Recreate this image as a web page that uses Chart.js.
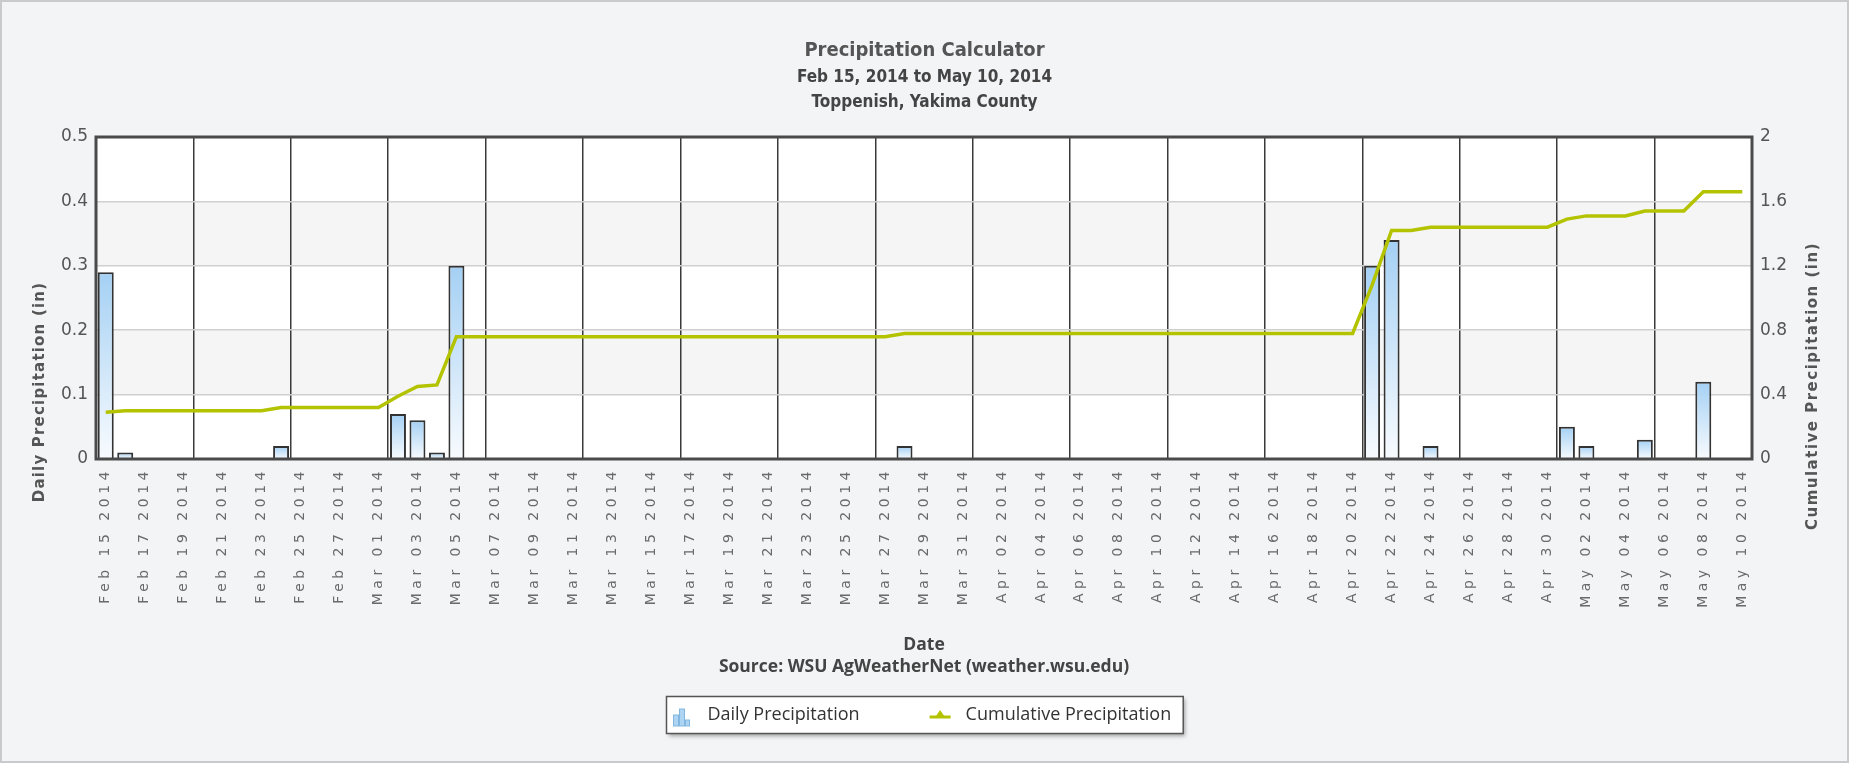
<!DOCTYPE html>
<html>
<head>
<meta charset="utf-8">
<script src="https://cdn.jsdelivr.net/npm/chart.js@4.4.0/dist/chart.umd.min.js"></script>
<style>
    html, body { margin: 0; padding: 0; background: #f3f4f6; }
    canvas { display: block; }
</style>
</head>
<body>
<canvas id="graficoPioggia" width="1849" height="763"></canvas>
<script>
// giorni dal 15 febbraio al 10 maggio 2014
const giorni = [
    'Feb 15 2014', 'Feb 16 2014', 'Feb 17 2014', 'Feb 18 2014', 'Feb 19 2014', 'Feb 20 2014', 'Feb 21 2014',
    'Feb 22 2014', 'Feb 23 2014', 'Feb 24 2014', 'Feb 25 2014', 'Feb 26 2014', 'Feb 27 2014', 'Feb 28 2014',
    'Mar 01 2014', 'Mar 02 2014', 'Mar 03 2014', 'Mar 04 2014', 'Mar 05 2014', 'Mar 06 2014', 'Mar 07 2014',
    'Mar 08 2014', 'Mar 09 2014', 'Mar 10 2014', 'Mar 11 2014', 'Mar 12 2014', 'Mar 13 2014', 'Mar 14 2014',
    'Mar 15 2014', 'Mar 16 2014', 'Mar 17 2014', 'Mar 18 2014', 'Mar 19 2014', 'Mar 20 2014', 'Mar 21 2014',
    'Mar 22 2014', 'Mar 23 2014', 'Mar 24 2014', 'Mar 25 2014', 'Mar 26 2014', 'Mar 27 2014', 'Mar 28 2014',
    'Mar 29 2014', 'Mar 30 2014', 'Mar 31 2014', 'Apr 01 2014', 'Apr 02 2014', 'Apr 03 2014', 'Apr 04 2014',
    'Apr 05 2014', 'Apr 06 2014', 'Apr 07 2014', 'Apr 08 2014', 'Apr 09 2014', 'Apr 10 2014', 'Apr 11 2014',
    'Apr 12 2014', 'Apr 13 2014', 'Apr 14 2014', 'Apr 15 2014', 'Apr 16 2014', 'Apr 17 2014', 'Apr 18 2014',
    'Apr 19 2014', 'Apr 20 2014', 'Apr 21 2014', 'Apr 22 2014', 'Apr 23 2014', 'Apr 24 2014', 'Apr 25 2014',
    'Apr 26 2014', 'Apr 27 2014', 'Apr 28 2014', 'Apr 29 2014', 'Apr 30 2014', 'May 01 2014', 'May 02 2014',
    'May 03 2014', 'May 04 2014', 'May 05 2014', 'May 06 2014', 'May 07 2014', 'May 08 2014', 'May 09 2014',
    'May 10 2014'
];

// pioggia giornaliera (in)
const pioggiaGiornaliera = [
    0.29, 0.01, 0, 0, 0, 0, 0, 0, 0, 0.02,
    0, 0, 0, 0, 0, 0.07, 0.06, 0.01, 0.30, 0,
    0, 0, 0, 0, 0, 0, 0, 0, 0, 0,
    0, 0, 0, 0, 0, 0, 0, 0, 0, 0,
    0, 0.02, 0, 0, 0, 0, 0, 0, 0, 0,
    0, 0, 0, 0, 0, 0, 0, 0, 0, 0,
    0, 0, 0, 0, 0, 0.30, 0.34, 0, 0.02, 0,
    0, 0, 0, 0, 0, 0.05, 0.02, 0, 0, 0.03,
    0, 0, 0.12, 0, 0
];

// pioggia cumulata (in)
const pioggiaCumulata = [
    0.29, 0.30, 0.30, 0.30, 0.30, 0.30, 0.30, 0.30, 0.30, 0.32,
    0.32, 0.32, 0.32, 0.32, 0.32, 0.39, 0.45, 0.46, 0.76, 0.76,
    0.76, 0.76, 0.76, 0.76, 0.76, 0.76, 0.76, 0.76, 0.76, 0.76,
    0.76, 0.76, 0.76, 0.76, 0.76, 0.76, 0.76, 0.76, 0.76, 0.76,
    0.76, 0.78, 0.78, 0.78, 0.78, 0.78, 0.78, 0.78, 0.78, 0.78,
    0.78, 0.78, 0.78, 0.78, 0.78, 0.78, 0.78, 0.78, 0.78, 0.78,
    0.78, 0.78, 0.78, 0.78, 0.78, 1.08, 1.42, 1.42, 1.44, 1.44,
    1.44, 1.44, 1.44, 1.44, 1.44, 1.49, 1.51, 1.51, 1.51, 1.54,
    1.54, 1.54, 1.66, 1.66, 1.66
];

const titoloAsseSx = 'Daily Precipitation (in)';
const titoloAsseDx = 'Cumulative Precipitation (in)';

const fontStretto = '"Liberation Sans Narrow", "DejaVu Sans Condensed", sans-serif';

// sfondo, bande alterne e cornice dell'area del grafico
const sfondo = {
    id: 'sfondo',
    beforeDraw(chart) {
        const { ctx, chartArea: a, scales } = chart;
        ctx.save();
        ctx.fillStyle = '#f3f4f6';
        ctx.fillRect(0, 0, chart.width, chart.height);
        ctx.strokeStyle = '#c8cacc';
        ctx.lineWidth = 2;
        ctx.strokeRect(1, 1, chart.width - 2, chart.height - 2);
        ctx.fillStyle = '#ffffff';
        ctx.fillRect(a.left, a.top, a.width, a.height);
        ctx.fillStyle = '#f5f5f5';
        [[0.1, 0.2], [0.3, 0.4]].forEach(([da, a2]) => {
            const y1 = scales.y.getPixelForValue(a2);
            const y2 = scales.y.getPixelForValue(da);
            ctx.fillRect(a.left, y1, a.width, y2 - y1);
        });
        ctx.restore();
    },
    afterDatasetsDraw(chart) {
        const { ctx, chartArea: a } = chart;
        ctx.save();
        ctx.strokeStyle = '#4a4a4a';
        ctx.lineWidth = 3;
        ctx.strokeRect(a.left, a.top, a.width, a.height);
        ctx.restore();
    }
};

// titoli degli assi verticali, entrambi letti dal basso verso l'alto
const titoliAssi = {
    id: 'titoliAssi',
    afterDraw(chart) {
        const ctx = chart.ctx;
        ctx.save();
        ctx.font = 'bold 15px "DejaVu Sans"';
        ctx.fillStyle = '#555';
        ctx.textAlign = 'center';
        ctx.textBaseline = 'middle';
        [[40, 392, 1.2, titoloAsseSx], [1813, 386, 1.5, titoloAsseDx]].forEach(([x, y, sp, testo]) => {
            ctx.save();
            ctx.letterSpacing = sp + 'px';
            ctx.translate(x, y);
            ctx.rotate(-Math.PI / 2);
            ctx.fillText(testo, 0, 0);
            ctx.restore();
        });
        ctx.restore();
    }
};

// legenda disegnata a mano dentro un riquadro con ombra
const legenda = {
    id: 'legenda',
    afterDraw(chart) {
        const ctx = chart.ctx;
        const ds = chart.data.datasets;
        ctx.save();
        ctx.font = '18px "Open Sans"';
        const w1 = ctx.measureText(ds[0].label).width;
        const w2 = ctx.measureText(ds[1].label).width;
        const boxW = 7 + 17 + 17 + w1 + 70 + 21 + 15 + w2 + 12;
        const boxH = 37;
        const x0 = Math.round(chart.width / 2 - boxW / 2) + 0.5;
        const y0 = 696.5;
        ctx.shadowColor = 'rgba(0,0,0,0.35)';
        ctx.shadowBlur = 4;
        ctx.shadowOffsetX = 2;
        ctx.shadowOffsetY = 2;
        ctx.fillStyle = '#ffffff';
        ctx.fillRect(x0, y0, boxW, boxH);
        ctx.shadowColor = 'rgba(0,0,0,0)';
        ctx.strokeStyle = '#555';
        ctx.lineWidth = 1.5;
        ctx.strokeRect(x0, y0, boxW, boxH);
        const cy = y0 + boxH / 2;

        // icona barre
        let x = x0 + 7;
        ctx.fillStyle = '#aed4f3';
        ctx.strokeStyle = '#84b7e0';
        ctx.lineWidth = 1;
        [[0, 6, 11], [6, 6, 17], [12, 5, 6]].forEach(([dx, w, h]) => {
            ctx.fillRect(x + dx, cy + 11 - h, w - 1, h);
            ctx.strokeRect(x + dx, cy + 11 - h, w - 1, h);
        });
        x += 17 + 17;
        ctx.fillStyle = '#333';
        ctx.textBaseline = 'middle';
        ctx.fillText(ds[0].label, x, cy);

        // icona linea
        x += w1 + 70;
        ctx.strokeStyle = ds[1].borderColor;
        ctx.fillStyle = ds[1].borderColor;
        ctx.lineWidth = 3;
        ctx.beginPath();
        ctx.moveTo(x, cy + 2);
        ctx.lineTo(x + 21, cy + 2);
        ctx.stroke();
        ctx.beginPath();
        ctx.moveTo(x + 5, cy + 3);
        ctx.lineTo(x + 10.5, cy - 5);
        ctx.lineTo(x + 16, cy + 3);
        ctx.closePath();
        ctx.fill();
        x += 21 + 15;
        ctx.fillStyle = '#333';
        ctx.fillText(ds[1].label, x, cy);
        ctx.restore();
    }
};

function sfumaturaBarra(context) {
    const chart = context.chart;
    const p = context.parsed;
    if (!chart.chartArea || !p) return '#b9dbf6';
    const ys = chart.scales.y;
    const top = ys.getPixelForValue(p.y);
    const base = ys.getPixelForValue(0);
    if (!(base - top > 0)) return '#b9dbf6';
    const g = chart.ctx.createLinearGradient(0, top, 0, base);
    g.addColorStop(0, '#a4d0f4');
    g.addColorStop(1, '#f8fbfe');
    return g;
}

const etichettaTick = v => String(Math.round(v * 10) / 10);

const grafico = new Chart(document.getElementById('graficoPioggia'), {
    type: 'bar',
    data: {
        labels: giorni,
        datasets: [{
            type: 'bar',
            label: 'Daily Precipitation',
            data: pioggiaGiornaliera,
            yAxisID: 'y',
            backgroundColor: sfumaturaBarra,
            borderColor: '#333333',
            borderWidth: 2,
            barPercentage: 0.82,
            categoryPercentage: 1,
            order: 2
        }, {
            type: 'line',
            label: 'Cumulative Precipitation',
            data: pioggiaCumulata,
            yAxisID: 'y1',
            borderColor: '#b4c300',
            borderWidth: 3.5,
            pointRadius: 0,
            tension: 0,
            fill: false,
            order: 1
        }]
    },
    options: {
        responsive: false,
        animation: false,
        layout: { padding: { top: 0, left: 0, right: 0, bottom: 85 } },
        plugins: {
            legend: { display: false },
            tooltip: { enabled: false },
            title: {
                display: true,
                text: 'Precipitation Calculator',
                color: '#555',
                font: { family: fontStretto, size: 20, weight: 'bold', lineHeight: '24px' },
                padding: { top: 39, bottom: 0 }
            },
            subtitle: {
                display: true,
                text: ['Feb 15, 2014 to May 10, 2014', 'Toppenish, Yakima County'],
                color: '#444',
                font: { family: fontStretto, size: 17, weight: 'bold', lineHeight: '25px' },
                padding: { top: 2.5, bottom: 21.5 }
            }
        },
        scales: {
            x: {
                offset: true,
                grid: {
                    offset: true,
                    color: c => (c.index % 5 === 0 ? '#3a3a3a' : 'rgba(0,0,0,0)'),
                    lineWidth: 1.5,
                    drawTicks: false
                },
                border: { display: false },
                ticks: {
                    autoSkip: false,
                    maxRotation: 90,
                    minRotation: 90,
                    padding: 8,
                    color: '#6a6a6a',
                    font: { family: 'DejaVu Sans', size: 14 },
                    callback: (v, i) => (i % 2 === 0 ? giorni[i] : '')
                },
                title: {
                    display: true,
                    text: ['Date', 'Source: WSU AgWeatherNet (weather.wsu.edu)'],
                    color: '#444',
                    font: { family: '"Open Sans"', size: 17.5, weight: 'bold', lineHeight: '22px' },
                    padding: { top: 0, bottom: 0 }
                },
                afterFit: s => { s.height = 219; }
            },
            y: {
                position: 'left',
                min: 0,
                max: 0.5,
                ticks: {
                    stepSize: 0.1,
                    padding: 8,
                    color: '#555',
                    font: { family: 'DejaVu Sans', size: 17 },
                    callback: etichettaTick
                },
                grid: { color: '#cfcfcf', lineWidth: 1.5, drawTicks: false },
                border: { display: false },
                afterFit: s => { s.width = 96; }
            },
            y1: {
                position: 'right',
                min: 0,
                max: 2,
                ticks: {
                    stepSize: 0.4,
                    padding: 8,
                    color: '#555',
                    font: { family: 'DejaVu Sans', size: 17 },
                    callback: etichettaTick
                },
                grid: { drawOnChartArea: false, drawTicks: false },
                border: { display: false },
                afterFit: s => { s.width = 97; }
            }
        }
    },
    plugins: [sfondo, titoliAssi, legenda]
});

// le date sull'asse x hanno le lettere molto spaziate
const asseX = grafico.scales.x;
const disegnaEtichette = asseX.drawLabels;
asseX.drawLabels = function (area) {
    const c = this.ctx;
    c.save();
    c.letterSpacing = '4.5px';
    disegnaEtichette.call(this, area);
    c.restore();
};
grafico.draw();
</script>
</body>
</html>
